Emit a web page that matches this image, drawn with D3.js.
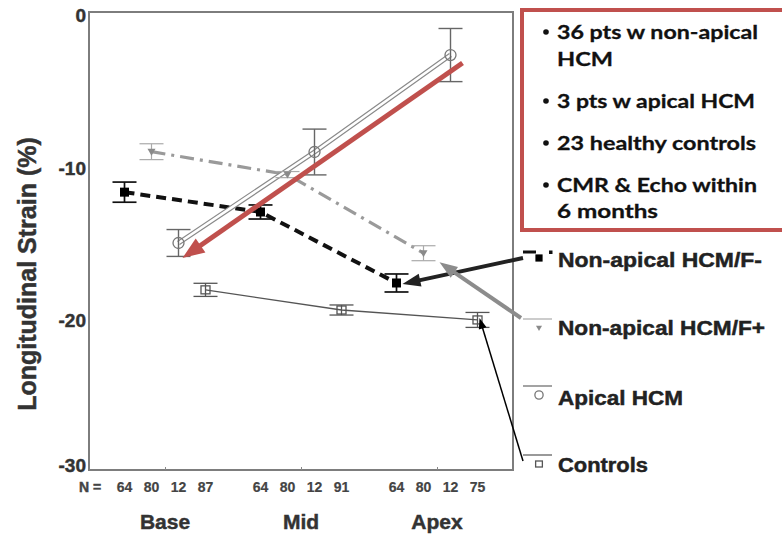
<!DOCTYPE html>
<html><head><meta charset="utf-8">
<script src="https://cdn.jsdelivr.net/npm/d3@7"></script>
<style>html,body{margin:0;padding:0;background:#fff;} svg{display:block;}</style>
</head><body><svg id="c" width="782" height="534"></svg>
<script>
// ---------- data ----------
const groups = ["Base", "Mid", "Apex"];
const seriesNames = ["Non-apical HCM/F-", "Non-apical HCM/F+", "Apical HCM", "Controls"];
const nCounts = [["64", "80", "12", "87"], ["64", "80", "12", "91"], ["64", "80", "12", "75"]];
const fMinusMean = [-11.8, -13.1, -17.75];
const fMinusErr = [0.66, 0.46, 0.59];
const fPlusMean = [-9.15, -10.65, -15.8];
const fPlusErr = [0.52, 0.2, 0.49];
const apicalMean = [-15.13, -9.17, -2.82];
const apicalErr = [0.88, 1.5, 1.74];
const controlsMean = [-18.2, -19.52, -20.17];
const controlsErr = [0.43, 0.33, 0.49];
const yTicks = [0, -10, -20, -30];
const yTitle = "Longitudinal Strain (%)";
const bullets = [["36 pts w non-apical", "HCM"], ["3 pts w apical HCM"], ["23 healthy controls"], ["CMR & Echo within", "6 months"]];

const seriesData = [
  {name: seriesNames[0], mean: fMinusMean, err: fMinusErr},
  {name: seriesNames[1], mean: fPlusMean, err: fPlusErr},
  {name: seriesNames[2], mean: apicalMean, err: apicalErr},
  {name: seriesNames[3], mean: controlsMean, err: controlsErr}
];
const styles = {
  "Non-apical HCM/F-": {line: "#111", width: 4, dash: "10,6", err: "#111", errW: 1.7, marker: "fsquare", mcol: "#000"},
  "Non-apical HCM/F+": {line: "#9a9a9a", width: 3.2, dash: "14,6,3,6", err: "#aaa", errW: 1.2, marker: "tri", mcol: "#8a8a8a"},
  "Apical HCM": {line: "#8a8a8a", width: 5, dash: null, inner: true, err: "#666", errW: 1.4, marker: "circle", mcol: "#777"},
  "Controls": {line: "#555", width: 1.3, dash: null, err: "#555", errW: 1.3, marker: "osquare", mcol: "#555"}
};
const FONT = "Liberation Sans, Arial, sans-serif";

// ---------- scales ----------
const svg = d3.select("#c");
const x0 = d3.scalePoint().domain(groups).range([165, 437]);
const xs = d3.scalePoint().domain(seriesNames).range([-40.5, 40.5]);
const y = d3.scaleLinear().domain([-30, 0]).range([470, 12]);
const px = (s, i) => x0(groups[i]) + xs(s.name);

function boldText(sel, col) {
  return sel.attr("font-family", FONT).attr("font-weight", "bold").attr("fill", col)
    .attr("stroke", col).attr("stroke-width", 0.45);
}

// frame
svg.append("rect").attr("x", 89).attr("y", 12).attr("width", 424).attr("height", 458)
  .attr("fill", "#fff").attr("stroke", "#7d7d7d").attr("stroke-width", 2);

// y axis
const ya = svg.append("g").attr("transform", "translate(86,0)")
  .call(d3.axisLeft(y).tickValues(yTicks).tickSize(0).tickPadding(0).tickFormat(d => String(d)));
ya.select(".domain").remove();
boldText(ya.selectAll("text"), "#333").attr("font-size", 19)
  .attr("dy", (d) => d === -30 ? "0.1em" : "0.5em");

// x axis small ticks
const xa = svg.append("g").attr("transform", "translate(0,470)")
  .call(d3.axisBottom(x0).tickSize(-3).tickFormat(""));
xa.select(".domain").remove();
xa.selectAll("line").attr("stroke", "#888");

// group labels
boldText(svg.selectAll(".glab").data(groups).enter().append("text")
  .attr("x", d => x0(d)).attr("y", 529).attr("text-anchor", "middle").attr("font-size", 21), "#333")
  .text(d => d);

// N labels
boldText(svg.append("text").attr("x", 79).attr("y", 492).attr("font-size", 14), "#444").text("N =");
groups.forEach((g, gi) => {
  seriesNames.forEach((s, si) => {
    boldText(svg.append("text").attr("x", x0(g) + xs(s)).attr("y", 492).attr("text-anchor", "middle")
      .attr("font-size", 14), "#444").attr("stroke-width", 0.2).text(nCounts[gi][si]);
  });
});

// y title
boldText(svg.append("text").attr("transform", "translate(36,274) rotate(-90)").attr("text-anchor", "middle")
  .attr("font-size", 25), "#333").text(yTitle);

// lines
const line = d3.line();
seriesData.forEach(s => {
  const st = styles[s.name];
  const pts = s.mean.map((v, i) => [px(s, i), y(v)]);
  const p = svg.append("path").attr("d", line(pts)).attr("fill", "none").attr("stroke", st.line)
    .attr("stroke-width", st.width);
  if (st.dash) p.attr("stroke-dasharray", st.dash);
  if (st.inner) svg.append("path").attr("d", line(pts)).attr("fill", "none").attr("stroke", "#fff").attr("stroke-width", 2.6);
});

// error bars and markers
const capW = 12;
seriesData.forEach(s => {
  const st = styles[s.name];
  s.mean.forEach((v, i) => {
    const cx = px(s, i), e = s.err[i];
    const g = svg.append("g").attr("stroke", st.err).attr("stroke-width", st.errW);
    g.append("line").attr("x1", cx).attr("x2", cx).attr("y1", y(v + e)).attr("y2", y(v - e));
    g.append("line").attr("x1", cx - capW).attr("x2", cx + capW).attr("y1", y(v + e)).attr("y2", y(v + e));
    g.append("line").attr("x1", cx - capW).attr("x2", cx + capW).attr("y1", y(v - e)).attr("y2", y(v - e));
    drawMarker(svg, st, cx, y(v), 1);
  });
});

function drawMarker(sel, st, cx, cy, k) {
  if (st.marker === "fsquare") {
    sel.append("rect").attr("x", cx - 4.5 * k).attr("y", cy - 4.5 * k).attr("width", 9 * k).attr("height", 9 * k).attr("fill", st.mcol);
  } else if (st.marker === "tri") {
    sel.append("path").attr("d", `M${cx - 4 * k},${cy - 3 * k}L${cx + 4 * k},${cy - 3 * k}L${cx},${cy + 4 * k}Z`).attr("fill", st.mcol);
  } else if (st.marker === "circle") {
    sel.append("circle").attr("cx", cx).attr("cy", cy).attr("r", 5.5 * k).attr("fill", "none").attr("stroke", st.mcol).attr("stroke-width", 1.3);
  } else {
    sel.append("rect").attr("x", cx - 4.5 * k).attr("y", cy - 4 * k).attr("width", 9 * k).attr("height", 8 * k).attr("fill", "none").attr("stroke", st.mcol).attr("stroke-width", 1.3);
  }
}

// ---------- text box ----------
svg.append("rect").attr("x", 522).attr("y", 10).attr("width", 272).attr("height", 220)
  .attr("fill", "#fff").attr("stroke", "#c0504d").attr("stroke-width", 4);
const lineBaselines = [[39, 66], [108], [150], [192, 218]];
const lineWidths = [[201, 56], [198], [199], [200, 101]];
bullets.forEach((b, bi) => {
  svg.append("circle").attr("cx", 546).attr("cy", lineBaselines[bi][0] - 7).attr("r", 2.8).attr("fill", "#111");
  b.forEach((t, li) => {
    svg.append("text").attr("x", 557).attr("y", lineBaselines[bi][li])
      .attr("font-family", "Lato, 'Open Sans', sans-serif").attr("font-weight", "bold").attr("font-size", 19.5)
      .attr("fill", "#111").attr("stroke", "#111").attr("stroke-width", 0.3)
      .attr("textLength", lineWidths[bi][li]).attr("lengthAdjust", "spacingAndGlyphs").text(t);
  });
});

// ---------- legend ----------
const legTop = [252, 319, 386, 455];
const legText = [267, 335, 405, 472];
const legWidths = [204, 207, 125, 90];
seriesNames.forEach((s, i) => {
  const st = styles[s];
  const g = svg.append("g");
  if (i === 0) {
    g.append("line").attr("x1", 523).attr("x2", 536).attr("y1", legTop[i]).attr("y2", legTop[i]).attr("stroke", "#111").attr("stroke-width", 3);
    g.append("rect").attr("x", 549).attr("y", legTop[i] - 1.5).attr("width", 3.5).attr("height", 3.5).attr("fill", "#111");
  } else {
    g.append("line").attr("x1", 523).attr("x2", 552).attr("y1", legTop[i]).attr("y2", legTop[i]).attr("stroke", st.err).attr("stroke-width", 1.2);
  }
  drawMarker(g, st, 539, legTop[i] + (i === 0 ? 6 : 9), i === 0 ? 0.8 : 0.75);
  boldText(g.append("text").attr("x", 558).attr("y", legText[i]).attr("font-size", 20), "#222")
    .attr("textLength", legWidths[i]).attr("lengthAdjust", "spacingAndGlyphs").text(s);
});

// ---------- arrows ----------
function arrow(x1, y1, x2, y2, color, w, hl, hw) {
  const dx = x2 - x1, dy = y2 - y1, L = Math.hypot(dx, dy);
  const ux = dx / L, uy = dy / L;
  const bx = x2 - ux * hl, by = y2 - uy * hl;
  svg.append("line").attr("x1", x1).attr("y1", y1).attr("x2", bx + ux * 1).attr("y2", by + uy * 1)
    .attr("stroke", color).attr("stroke-width", w);
  svg.append("path").attr("d", `M${x2},${y2}L${bx - uy * hw / 2},${by + ux * hw / 2}L${bx + uy * hw / 2},${by - ux * hw / 2}Z`)
    .attr("fill", color);
}
const apical = seriesData[2], fm = seriesData[0], fp = seriesData[1], ctl = seriesData[3];
arrow(px(apical, 2) + 12, y(apical.mean[2]) + 8, px(apical, 0) + 4, y(apical.mean[0]) + 15, "#c0504d", 5, 22, 17);
arrow(523, legTop[0] + 6, px(fm, 2) + 6, y(fm.mean[2]) + 1, "#222", 4, 18, 13);
arrow(521, legTop[1] - 1, px(fp, 2) + 16, y(fp.mean[2]) + 9, "#8c8c8c", 4, 18, 13);
arrow(523, legTop[3] + 6, px(ctl, 2) + 2, y(ctl.mean[2]) - 2, "#000", 1.5, 11, 8);
</script>
</body></html>
